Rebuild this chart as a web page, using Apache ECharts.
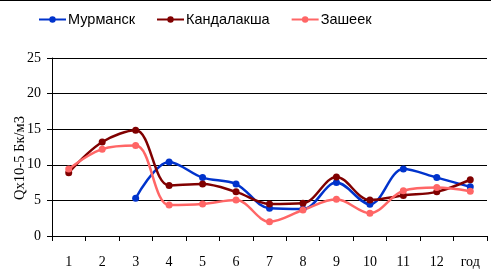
<!DOCTYPE html>
<html><head><meta charset="utf-8">
<script src="https://cdn.jsdelivr.net/npm/echarts@6/dist/echarts.min.js"></script>
<style>html,body{margin:0;padding:0;background:#fff}#c{width:491px;height:273px}</style>
</head><body><div id="c"></div>
<script>
const categories = ['1','2','3','4','5','6','7','8','9','10','11','12','год'];
const murmansk = [null, null, 5.3, 10.4, 8.2, 7.3, 3.9, 3.8, 7.5, 4.45, 9.4, 8.2, 6.9];
const kandalaksha = [8.9, 13.2, 14.85, 7.1, 7.3, 6.2, 4.5, 4.6, 8.3, 5.05, 5.7, 6.2, 7.9];
const zasheek = [9.4, 12.2, 12.7, 4.35, 4.5, 5.05, 2.0, 3.65, 5.15, 3.2, 6.35, 6.8, 6.3];
const seriesNames = ['Мурманск', 'Кандалакша', 'Зашеек'];
const yAxisTitle = 'Qx10-5 Бк/м3';
const colors = ['#0033cc', '#800000', '#ff6666'];

const chart = echarts.init(document.getElementById('c'));
const mk = (name, data, color) => ({
  name, type: 'line', data, smooth: 0.35, connectNulls: false,
  symbol: 'circle', symbolSize: 7,
  lineStyle: { width: 2.5, color }, itemStyle: { color },
  animation: false
});
chart.setOption({
  animation: false,
  color: colors,
  graphic: [
    { type: 'line', shape: { x1: 0, y1: 0.5, x2: 491, y2: 0.5 }, style: { stroke: '#000', lineWidth: 1 } },
    { type: 'text', x: 20, y: 158, rotation: Math.PI / 2,
      style: { text: yAxisTitle, fill: '#000', font: '14.5px "Liberation Serif"', align: 'center', verticalAlign: 'middle' } }
  ],
  legend: {
    top: 7, left: 33, itemGap: 21, itemWidth: 27, itemHeight: 8,
    textStyle: { fontFamily: 'Liberation Sans', fontSize: 14.5, color: '#000', padding: [0,0,0,-3] },
    data: seriesNames
  },
  grid: { left: 52, right: 4, top: 58, bottom: 37, containLabel: false, outerBoundsMode: 'none' },
  xAxis: {
    type: 'category', data: categories, boundaryGap: true,
    axisLine: { lineStyle: { color: '#000', width: 1 } },
    axisTick: { show: true, length: 5, inside: false, lineStyle: { color: '#000' } },
    axisLabel: { color: '#000', fontFamily: 'Liberation Serif', fontSize: 14, margin: 19 },
    splitLine: { show: false }
  },
  yAxis: {
    type: 'value', min: 0, max: 25, interval: 5,
    axisLine: { show: true, lineStyle: { color: '#000' } },
    axisTick: { show: true, length: 5, lineStyle: { color: '#000' } },
    axisLabel: { color: '#000', fontFamily: 'Liberation Serif', fontSize: 14, margin: 11 },
    splitLine: { show: true, lineStyle: { color: '#000', width: 1 } }
  },
  series: [mk(seriesNames[0], murmansk, colors[0]), mk(seriesNames[1], kandalaksha, colors[1]), mk(seriesNames[2], zasheek, colors[2])]
});
</script></body></html>
